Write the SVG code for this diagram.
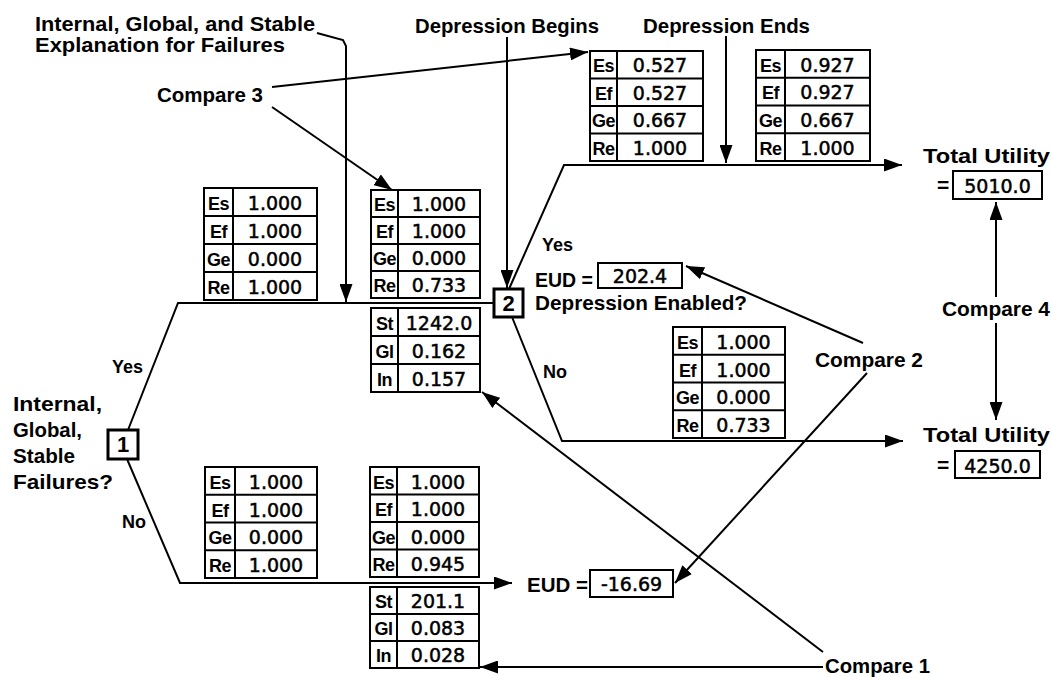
<svg xmlns="http://www.w3.org/2000/svg" width="1052" height="677" viewBox="0 0 1052 677">
<style>
.ln{stroke:#000;stroke-width:2;fill:none}
.ar{stroke:#000;stroke-width:2;fill:none;marker-end:url(#ah)}
.bx{fill:#fff;stroke:#000;stroke-width:2}
.nb{fill:#fff;stroke:#000;stroke-width:3}
.lbl{font-family:"Liberation Sans",Arial,sans-serif;font-weight:bold;font-size:21px;fill:#000}
.sm{font-family:"Liberation Sans",Arial,sans-serif;font-weight:bold;font-size:18px;fill:#000}
.num{font-family:"DejaVu Sans",sans-serif;font-size:19px;text-anchor:middle;fill:#000;stroke:#000;stroke-width:0.5}
.key{font-family:"Liberation Sans",Arial,sans-serif;font-weight:bold;font-size:18px;text-anchor:middle;fill:#000;letter-spacing:-0.5px}
.nid{font-family:"Liberation Sans",Arial,sans-serif;font-weight:bold;font-size:22px;text-anchor:middle;fill:#000}
</style>
<defs>
<marker id="ah" markerUnits="userSpaceOnUse" markerWidth="18" markerHeight="13" refX="18" refY="6.5" orient="auto">
<path d="M0,0 L18,6.5 L0,13 z" fill="#000"/>
</marker>
</defs>
<rect width="1052" height="677" fill="#fff"/>

<g id="connectors">
<path class="ar" d="M317,33 L343,40 L346,46 L346,302"/>
<path class="ar" d="M272,87 L588,52"/>
<path class="ar" d="M272,107 L392,190"/>
<path class="ar" d="M507,37 L507,288"/>
<path class="ar" d="M726,36 L726,163"/>
<path class="ar" d="M509,289 L564,165 L902,165"/>
<path class="ar" d="M512,317 L562,441 L903,441"/>
<path class="ln" d="M128,430 L178,303 L494,303"/>
<path class="ar" d="M127,459 L180,583 L512,583"/>
<path class="ar" d="M863,343 L686,266"/>
<path class="ar" d="M867,373 L675,583"/>
<path class="ar" d="M823,652 L482,392"/>
<path class="ar" d="M823,667 L480,667"/>
<path class="ar" d="M996,297 L996,202"/>
<path class="ar" d="M996,323 L996,420"/>
</g>

<g id="label-explanation">
<text class="lbl" x="35" y="31" textLength="280" lengthAdjust="spacingAndGlyphs">Internal, Global, and Stable</text>
<text class="lbl" x="35" y="52" textLength="250" lengthAdjust="spacingAndGlyphs">Explanation for Failures</text>
</g>
<g id="label-compare3"><text class="lbl" x="157" y="102" textLength="106" lengthAdjust="spacingAndGlyphs">Compare 3</text></g>
<g id="label-dep-begins"><text class="lbl" x="415" y="33" textLength="184" lengthAdjust="spacingAndGlyphs">Depression Begins</text></g>
<g id="label-dep-ends"><text class="lbl" x="643" y="33" textLength="167" lengthAdjust="spacingAndGlyphs">Depression Ends</text></g>

<g id="node1">
<rect class="nb" x="108" y="430" width="30" height="29"/>
<text class="nid" x="123" y="452">1</text>
<text class="lbl" x="13" y="411" textLength="89" lengthAdjust="spacingAndGlyphs">Internal,</text>
<text class="lbl" x="13" y="437" textLength="69" lengthAdjust="spacingAndGlyphs">Global,</text>
<text class="lbl" x="13" y="463" textLength="62" lengthAdjust="spacingAndGlyphs">Stable</text>
<text class="lbl" x="13" y="489" textLength="100" lengthAdjust="spacingAndGlyphs">Failures?</text>
<text class="sm" x="112" y="373">Yes</text>
<text class="sm" x="122" y="528">No</text>
</g>

<g id="node2">
<rect class="nb" x="494" y="289" width="29" height="28"/>
<text class="nid" x="508.5" y="311">2</text>
<text class="sm" x="542" y="251">Yes</text>
<text class="sm" x="543" y="378">No</text>
<text class="lbl" x="535" y="287" textLength="58" lengthAdjust="spacingAndGlyphs">EUD =</text>
<rect class="bx" x="598" y="263" width="84" height="25"/>
<text class="num" x="640" y="283">202.4</text>
<text class="lbl" x="535" y="310" textLength="212" lengthAdjust="spacingAndGlyphs">Depression Enabled?</text>
</g>

<g id="table1">
<rect class="bx" x="204" y="188" width="113" height="112"/>
<path class="ln" d="M233,188 V300 M204,216 H317 M204,244 H317 M204,272 H317"/>
<text class="key" x="218.5" y="210">Es</text><text class="num" x="275" y="210">1.000</text>
<text class="key" x="218.5" y="238">Ef</text><text class="num" x="275" y="238">1.000</text>
<text class="key" x="218.5" y="266">Ge</text><text class="num" x="275" y="266">0.000</text>
<text class="key" x="218.5" y="294">Re</text><text class="num" x="275" y="294">1.000</text>
</g>

<g id="table2">
<rect class="bx" x="371" y="190" width="109" height="108"/>
<path class="ln" d="M398,190 V298 M371,217 H480 M371,244 H480 M371,271 H480"/>
<text class="key" x="384.5" y="211">Es</text><text class="num" x="439" y="211">1.000</text>
<text class="key" x="384.5" y="238">Ef</text><text class="num" x="439" y="238">1.000</text>
<text class="key" x="384.5" y="265">Ge</text><text class="num" x="439" y="265">0.000</text>
<text class="key" x="384.5" y="292">Re</text><text class="num" x="439" y="292">0.733</text>
<rect class="bx" x="371" y="308" width="109" height="84"/>
<path class="ln" d="M398,308 V392 M371,336 H480 M371,364 H480"/>
<text class="key" x="384.5" y="330">St</text><text class="num" x="439" y="330">1242.0</text>
<text class="key" x="384.5" y="358">Gl</text><text class="num" x="439" y="358">0.162</text>
<text class="key" x="384.5" y="386">In</text><text class="num" x="439" y="386">0.157</text>
</g>

<g id="table3">
<rect class="bx" x="590" y="51" width="113" height="110"/>
<path class="ln" d="M617,51 V161 M590,78.5 H703 M590,106 H703 M590,133.5 H703"/>
<text class="key" x="603.5" y="72">Es</text><text class="num" x="660" y="72">0.527</text>
<text class="key" x="603.5" y="99.5">Ef</text><text class="num" x="660" y="99.5">0.527</text>
<text class="key" x="603.5" y="127">Ge</text><text class="num" x="660" y="127">0.667</text>
<text class="key" x="603.5" y="154.5">Re</text><text class="num" x="660" y="154.5">1.000</text>
</g>

<g id="table4">
<rect class="bx" x="756" y="50" width="114" height="111"/>
<path class="ln" d="M785,50 V161 M756,77.75 H870 M756,105.5 H870 M756,133.25 H870"/>
<text class="key" x="770.5" y="71.5">Es</text><text class="num" x="827.5" y="71.5">0.927</text>
<text class="key" x="770.5" y="99">Ef</text><text class="num" x="827.5" y="99">0.927</text>
<text class="key" x="770.5" y="127">Ge</text><text class="num" x="827.5" y="127">0.667</text>
<text class="key" x="770.5" y="155">Re</text><text class="num" x="827.5" y="155">1.000</text>
</g>

<g id="table5">
<rect class="bx" x="673" y="327" width="112" height="111"/>
<path class="ln" d="M702,327 V438 M673,354.75 H785 M673,382.5 H785 M673,410.25 H785"/>
<text class="key" x="687.5" y="349">Es</text><text class="num" x="743.5" y="349">1.000</text>
<text class="key" x="687.5" y="376.5">Ef</text><text class="num" x="743.5" y="376.5">1.000</text>
<text class="key" x="687.5" y="404">Ge</text><text class="num" x="743.5" y="404">0.000</text>
<text class="key" x="687.5" y="432">Re</text><text class="num" x="743.5" y="432">0.733</text>
</g>

<g id="table6">
<rect class="bx" x="205" y="467" width="112" height="111"/>
<path class="ln" d="M235,467 V578 M205,494.75 H317 M205,522.5 H317 M205,550.25 H317"/>
<text class="key" x="220" y="489">Es</text><text class="num" x="276" y="489">1.000</text>
<text class="key" x="220" y="516.5">Ef</text><text class="num" x="276" y="516.5">1.000</text>
<text class="key" x="220" y="544">Ge</text><text class="num" x="276" y="544">0.000</text>
<text class="key" x="220" y="572">Re</text><text class="num" x="276" y="572">1.000</text>
</g>

<g id="table7">
<rect class="bx" x="370" y="467" width="109" height="110"/>
<path class="ln" d="M397,467 V577 M370,494.5 H479 M370,522 H479 M370,549.5 H479"/>
<text class="key" x="383.5" y="488.5">Es</text><text class="num" x="438" y="488.5">1.000</text>
<text class="key" x="383.5" y="516">Ef</text><text class="num" x="438" y="516">1.000</text>
<text class="key" x="383.5" y="543.5">Ge</text><text class="num" x="438" y="543.5">0.000</text>
<text class="key" x="383.5" y="571">Re</text><text class="num" x="438" y="571">0.945</text>
<rect class="bx" x="370" y="587" width="109" height="81"/>
<path class="ln" d="M397,587 V668 M370,614 H479 M370,641 H479"/>
<text class="key" x="383.5" y="608">St</text><text class="num" x="438" y="608">201.1</text>
<text class="key" x="383.5" y="635">Gl</text><text class="num" x="438" y="635">0.083</text>
<text class="key" x="383.5" y="662">In</text><text class="num" x="438" y="662">0.028</text>
</g>

<g id="eud-no">
<text class="lbl" x="527" y="592" textLength="61" lengthAdjust="spacingAndGlyphs">EUD =</text>
<rect class="bx" x="590" y="570" width="83" height="27"/>
<text class="num" x="631.5" y="591">-16.69</text>
</g>

<g id="total-yes">
<text class="lbl" x="923" y="163" textLength="127" lengthAdjust="spacingAndGlyphs">Total Utility</text>
<text class="lbl" x="937" y="192">=</text>
<rect class="bx" x="953" y="171" width="89" height="28"/>
<text class="num" x="997.5" y="193">5010.0</text>
</g>

<g id="total-no">
<text class="lbl" x="923" y="442" textLength="127" lengthAdjust="spacingAndGlyphs">Total Utility</text>
<text class="lbl" x="937" y="472">=</text>
<rect class="bx" x="955" y="451" width="85" height="27"/>
<text class="num" x="997.5" y="473">4250.0</text>
</g>

<g id="label-compare4"><text class="lbl" x="942" y="316" textLength="108" lengthAdjust="spacingAndGlyphs">Compare 4</text></g>
<g id="label-compare2"><text class="lbl" x="815" y="367" textLength="108" lengthAdjust="spacingAndGlyphs">Compare 2</text></g>
<g id="label-compare1"><text class="lbl" x="825" y="673" textLength="105" lengthAdjust="spacingAndGlyphs">Compare 1</text></g>
</svg>
